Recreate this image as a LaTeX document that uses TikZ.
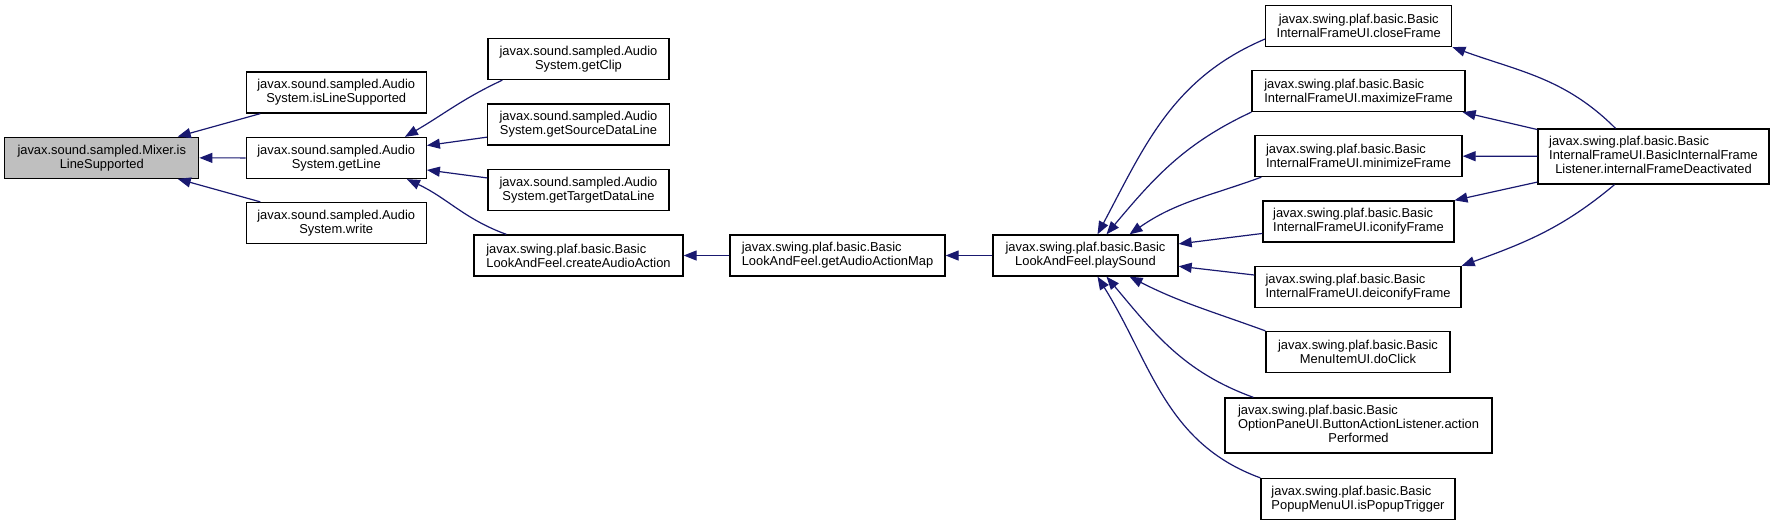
\documentclass[tikz,border=0pt]{standalone}
\usepackage{fontspec}
\setmainfont{Liberation Sans}
\usetikzlibrary{arrows.meta}
\definecolor{EdgeBlue}{RGB}{25, 25, 112}
\definecolor{FocusGrey}{RGB}{191, 191, 191}

\begin{document}
\begin{tikzpicture}[
        x = 1pt, y = 1pt,
        fn/.style = {
            draw = black,
            line width = 1.3pt,
            inner sep = 0pt,
            minimum height = 41pt,
            font = \fontsize{12.9}{14}\selectfont
        },
        call/.style = {
            -{Triangle[length = 13pt, width = 10pt]},
            line width = 1.2pt,
            EdgeBlue
        }
    ]
    \useasboundingbox (0, 0) rectangle (1775, -525);

    \node[fn, fill = FocusGrey, minimum width = 194pt, align = center] (mixer) at (101.75, -157.75) {javax.sound.sampled.Mixer.is\\LineSupported};

    \node[fn, minimum width = 180pt, align = center] (isLine) at (336.25, -92.5) {javax.sound.sampled.Audio\\System.isLineSupported};
    \node[fn, minimum width = 180pt, align = center] (getLine) at (336.25, -158) {javax.sound.sampled.Audio\\System.getLine};
    \node[fn, minimum width = 180pt, align = center] (write) at (336.25, -223) {javax.sound.sampled.Audio\\System.write};

    \node[fn, minimum width = 181pt, align = center] (getClip) at (578.5, -59) {javax.sound.sampled.Audio\\System.getClip};
    \node[fn, minimum width = 182pt, align = center] (getSource) at (578.5, -124.5) {javax.sound.sampled.Audio\\System.getSourceDataLine};
    \node[fn, minimum width = 181pt, align = center] (getTarget) at (578.5, -190) {javax.sound.sampled.Audio\\System.getTargetDataLine};
    \node[fn, minimum width = 209pt, align = left] (createAudio) at (578.5, -255.5) {javax.swing.plaf.basic.Basic\\LookAndFeel.createAudioAction};

    \node[fn, minimum width = 215pt, align = left] (getMap) at (837.5, -255.5) {javax.swing.plaf.basic.Basic\\LookAndFeel.getAudioActionMap};
    \node[fn, minimum width = 185pt, align = center] (playSound) at (1085.5, -255.5) {javax.swing.plaf.basic.Basic\\LookAndFeel.playSound};

    \node[fn, minimum width = 186pt, align = center] (closeFrame) at (1358.75, -26) {javax.swing.plaf.basic.Basic\\InternalFrameUI.closeFrame};
    \node[fn, minimum width = 213pt, align = left] (maximize) at (1358.5, -91) {javax.swing.plaf.basic.Basic\\InternalFrameUI.maximizeFrame};
    \node[fn, minimum width = 207pt, align = left] (minimize) at (1358.5, -156) {javax.swing.plaf.basic.Basic\\InternalFrameUI.minimizeFrame};
    \node[fn, minimum width = 191pt, align = left] (iconify) at (1358.5, -221.5) {javax.swing.plaf.basic.Basic\\InternalFrameUI.iconifyFrame};
    \node[fn, minimum width = 206pt, align = left] (deiconify) at (1358, -287) {javax.swing.plaf.basic.Basic\\InternalFrameUI.deiconifyFrame};
    \node[fn, minimum width = 184pt, align = center] (doClick) at (1358, -352) {javax.swing.plaf.basic.Basic\\MenuItemUI.doClick};
    \node[fn, minimum width = 267pt, minimum height = 55pt] (optionPane) at (1358.5, -425.5) {%
        \begin{tabular}{@{}l@{}}
            javax.swing.plaf.basic.Basic\\
            OptionPaneUI.ButtonActionListener.action\\
            \multicolumn{1}{@{}c@{}}{Performed}
        \end{tabular}};
    \node[fn, minimum width = 194pt, align = left] (popup) at (1358, -499) {javax.swing.plaf.basic.Basic\\PopupMenuUI.isPopupTrigger};

    \node[fn, minimum width = 231pt, minimum height = 55pt] (deactivated) at (1653.5, -156.5) {%
        \begin{tabular}{@{}l@{}}
            javax.swing.plaf.basic.Basic\\
            \multicolumn{1}{@{}c@{}}{InternalFrameUI.BasicInternalFrame}\\
            \multicolumn{1}{@{}c@{}}{Listener.internalFrameDeactivated}
        \end{tabular}};

    \draw[call] (isLine) -- (mixer);
    \draw[call] (getLine) -- (mixer);
    \draw[call] (write) -- (mixer);

    \draw[call] ([xshift = 15pt]getClip.south west) to[out = -155, in = 30] ([xshift = -22pt]getLine.north east);
    \draw[call] (getSource) -- (getLine);
    \draw[call] (getTarget) -- (getLine);
    \draw[call] ([xshift = 33pt]createAudio.north west) to[out = 160, in = -25] ([xshift = -20pt]getLine.south east);

    \draw[call] (getMap) -- (createAudio);
    \draw[call] (playSound) -- (getMap);

    \draw[call] ([yshift = -13pt]closeFrame.west) to[out = -157, in = 62] ([xshift = 12pt]playSound.north);
    \draw[call] (maximize.south west) to[out = -155, in = 50] ([xshift = 21pt]playSound.north);
    \draw[call] ([xshift = 7pt]minimize.south west) to[out = -160, in = 35] ([xshift = 44pt]playSound.north);
    \draw[call] (iconify) -- (playSound);
    \draw[call] (deiconify) -- (playSound);
    \draw[call] (doClick.north west) to[out = 160, in = -27] ([xshift = 44pt]playSound.south);
    \draw[call] ([xshift = 29pt]optionPane.north west) to[out = 160, in = -50] ([xshift = 21pt]playSound.south);
    \draw[call] (popup.north west) to[out = 160, in = -58] ([xshift = 12pt]playSound.south);

    \draw[call] ([xshift = -38pt]deactivated.north) to[out = 135, in = -20] (closeFrame.south east);
    \draw[call] (deactivated) -- ([xshift = -3pt]maximize.south east);
    \draw[call] (deactivated) -- (minimize);
    \draw[call] (deactivated) -- (iconify);
    \draw[call] ([xshift = -39pt]deactivated.south) to[out = -140, in = 20] (deiconify.north east);
\end{tikzpicture}
\end{document}
